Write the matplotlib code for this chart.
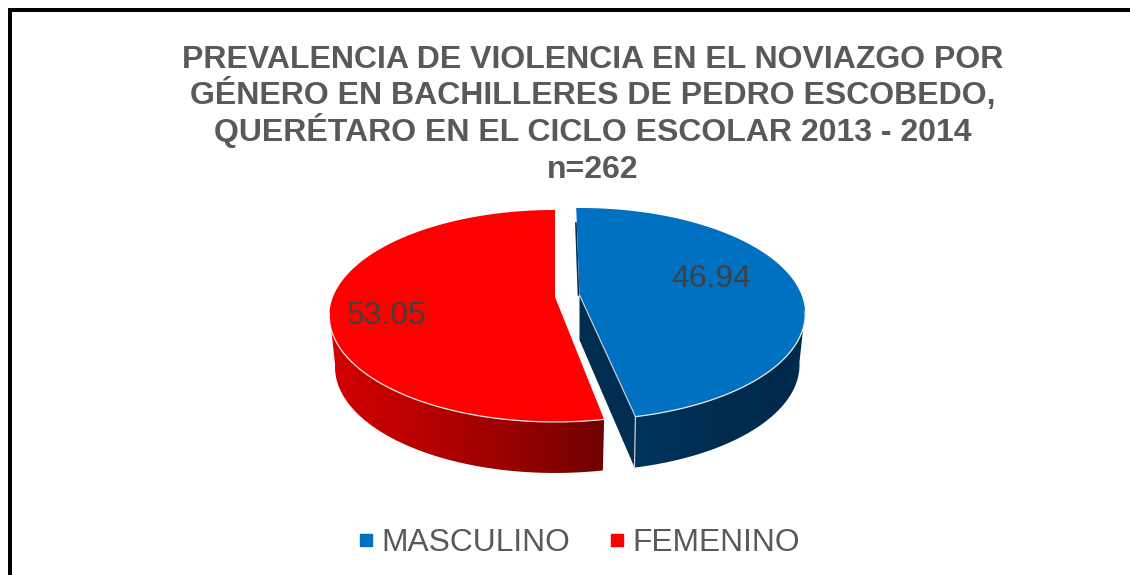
import numpy as np
import matplotlib
matplotlib.use('Agg')
import matplotlib.pyplot as plt
from matplotlib.lines import Line2D
from matplotlib.patches import Polygon
from matplotlib.colors import LinearSegmentedColormap

plt.rcParams['font.family'] = ['Liberation Sans', 'DejaVu Sans']

title_lines = ['PREVALENCIA DE VIOLENCIA EN EL NOVIAZGO POR',
               'GÉNERO EN BACHILLERES DE PEDRO ESCOBEDO,',
               'QUERÉTARO EN EL CICLO ESCOLAR 2013 - 2014',
               'n=262']
labels = ['MASCULINO', 'FEMENINO']
values = [46.94, 53.05]
value_text = ['46.94', '53.05']
colors = ['#0070C0', '#FF0000']
side_cmaps = [
    LinearSegmentedColormap.from_list('b', ['#00345c', '#002c50', '#002a4c']),
    LinearSegmentedColormap.from_list('r', ['#d40000', '#b80000', '#980000', '#700000']),
]

fig = plt.figure(figsize=(11.3, 5.75), dpi=100)
ax = fig.add_axes([0, 0, 1, 1])
ax.axis('off')

# black frame, only top and left
ax.plot([10, 10, 1130], [575, 10, 10], color='black', lw=2.9, solid_joinstyle='miter')

A = 222.0
B = 102.6
K = 0.179
DEPTH = 51.0
SHRINK = 0.975


def project(ang, cx, cy):
    # pie circle seen in perspective, ang clockwise from the top
    u = np.sin(ang)
    v = np.cos(ang)
    w = 1 + K * v
    return cx + A * u / w, cy - B * v / w


total = sum(values)
split = values[0] / total * 2 * np.pi
ranges = [(np.radians(-1), split - np.radians(1)), (split + np.radians(0.5), 2 * np.pi)]
centers = [(579.5, 295.0), (555.0, 297.0)]

for i in range(2):
    cx, cy = centers[i]
    t = np.linspace(ranges[i][0], ranges[i][1], 500)
    x, y = project(t, cx, cy)
    front = np.cos(t) < -0.15
    # outer wall: lower rim is pulled in a little, gradient clipped to it
    xf, yf = x[front], y[front]
    xl = cx + (xf - cx) * SHRINK
    yl = yf + DEPTH
    wall = Polygon(np.c_[np.r_[xf, xl[::-1]], np.r_[yf, yl[::-1]]], closed=True,
                   facecolor='none', edgecolor='none', transform=ax.transData)
    ax.add_patch(wall)
    grad = np.linspace(0, 1, 256).reshape(1, -1)
    im = ax.imshow(grad, cmap=side_cmaps[i], aspect='auto', zorder=2,
                   extent=(xf.min(), xf.max(), yl.max(), yf.min()))
    im.set_clip_path(wall)
    if i == 0:
        # cut wall of the blue slice
        ax.fill([cx, x[-1], cx + (x[-1] - cx) * SHRINK * 1.01, cx],
                [cy, y[-1], y[-1] + DEPTH, cy + DEPTH - 6],
                color='#002d50', lw=0, zorder=3)
        ax.plot([x[-1], x[-1] - 1], [y[-1], y[-1] + DEPTH], color='#c8d0d8', lw=0.9, zorder=4)
        ax.plot([x[0] - 0.3, cx - 1], [y[0] + 15, cy], color='#002d50', lw=1.2, zorder=3)
    ax.fill(np.r_[cx, x], np.r_[cy, y], color=colors[i], lw=0, zorder=5)
    ax.plot(xf, yf, color='#e6e9ec', lw=0.9, zorder=6)
    if i == 0:
        ax.plot([cx, x[-1]], [cy, y[-1]], color='#c8d6e0', lw=0.8, zorder=6)

ax.set_xlim(0, 1130)
ax.set_ylim(575, 0)

ax.text(711, 279, value_text[0], ha='center', va='center', fontsize=23, color='#404040', zorder=7)
ax.text(387, 316, value_text[1], ha='center', va='center', fontsize=23, color='#404040', zorder=7)

title_y = [68.3, 104, 141, 178]
for line, ty in zip(title_lines, title_y):
    ax.text(593, ty, line, ha='center', va='baseline', fontsize=23.05, fontweight='bold', color='#595959')

handles = [Line2D([], [], marker='s', ls='', color=c, markersize=8) for c in colors]
ax.legend(handles, labels, loc='center', bbox_to_anchor=(575 / 1130, 1 - 543 / 575),
          ncol=2, frameon=False, fontsize=22.9, labelcolor='#595959', handletextpad=-0.03,
          columnspacing=1.0, handlelength=1.0)

fig.savefig('out.png', dpi=100)
